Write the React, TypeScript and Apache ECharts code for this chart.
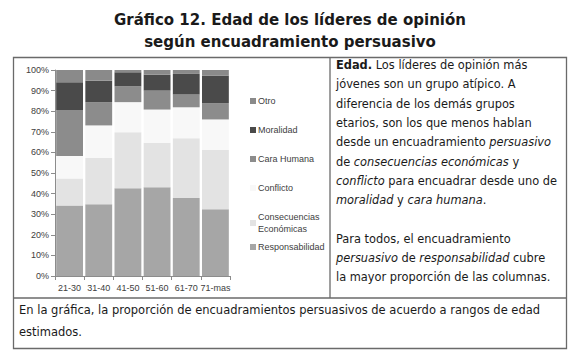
import React, { useEffect, useRef } from "react";
import * as echarts from "echarts";

const categories = ["21-30", "31-40", "41-50", "51-60", "61-70", "71-mas"];
const responsabilidad = [34.2, 34.8, 42.6, 43.1, 37.9, 32.4];
const consecuencias = [13.1, 22.5, 27.2, 21.6, 29.0, 28.9];
const conflicto = [10.9, 15.8, 14.6, 16.1, 15.0, 14.7];
const caraHumana = [22.4, 11.3, 7.7, 9.2, 6.2, 7.9];
const moralidad = [13.4, 10.4, 6.8, 7.7, 10.0, 13.4];
const otro = [6.0, 5.2, 1.1, 2.3, 1.9, 2.7];
const yTicks = [0, 10, 20, 30, 40, 50, 60, 70, 80, 90, 100];

const seriesDefs = [
  { name: "Responsabilidad", data: responsabilidad, color: "#a6a6a6" },
  { name: "Consecuencias Económicas", data: consecuencias, color: "#e3e3e3" },
  { name: "Conflicto", data: conflicto, color: "#f8f8f8" },
  { name: "Cara Humana", data: caraHumana, color: "#8c8c8c" },
  { name: "Moralidad", data: moralidad, color: "#4a4a4a" },
  { name: "Otro", data: otro, color: "#8a8a8a" },
];

const legendOrder = ["Otro", "Moralidad", "Cara Humana", "Conflicto", "Consecuencias Económicas", "Responsabilidad"];
const legendTops = [95, 124, 153, 182, 205, 241];

const bodyLines = [
  "{b|Edad.} Los líderes de opinión más",
  "jóvenes son un grupo atípico. A",
  "diferencia de los demás grupos",
  "etarios, son los que menos hablan",
  "desde un encuadramiento {i|persuasivo}",
  "de {i|consecuencias económicas} y",
  "{i|conflicto} para encuadrar desde uno de",
  "{i|moralidad} y {i|cara humana}.",
  " ",
  "Para todos, el encuadramiento",
  "{i|persuasivo} de {i|responsabilidad} cubre",
  "la mayor proporción de las columnas.",
];
const footLines = [
  "En la gráfica, la proporción de encuadramientos persuasivos de acuerdo a rangos de edad",
  "estimados.",
];

const BODY_FONT = "'DejaVu Sans', Verdana, sans-serif";
const CHART_FONT = "'Liberation Sans', Arial, sans-serif";
const BODY_SIZE = 11.4;

export default function App() {
  const ref = useRef<HTMLDivElement>(null);
  useEffect(() => {
    if (!ref.current) return;
    const chart = echarts.init(ref.current, null, { renderer: "svg" });
    const option: any = {
      animation: false,
      backgroundColor: "#ffffff",
      title: {
        text: "Gráfico 12. Edad de los líderes de opinión\nsegún encuadramiento persuasivo",
        left: "center",
        top: 4,
        textStyle: {
          fontFamily: "'DejaVu Sans', Tahoma, sans-serif",
          fontWeight: "bold",
          fontSize: 15,
          lineHeight: 22,
          color: "#1a1a1a",
          align: "center",
        },
      },
      grid: { left: 55, top: 70, width: 175, height: 206 },
      xAxis: {
        type: "category",
        data: categories,
        axisLine: { lineStyle: { color: "#8c8c8c" } },
        axisTick: { show: true, length: 4, lineStyle: { color: "#8c8c8c" } },
        axisLabel: { fontFamily: CHART_FONT, fontSize: 9, color: "#404040", margin: 7, interval: 0 },
      },
      yAxis: {
        type: "value",
        min: 0,
        max: 100,
        interval: 10,
        axisLine: { show: true, lineStyle: { color: "#8c8c8c" } },
        axisTick: { show: true, length: 4, lineStyle: { color: "#8c8c8c" } },
        splitLine: { show: false },
        axisLabel: {
          fontFamily: CHART_FONT,
          fontSize: 9,
          color: "#404040",
          margin: 6,
          formatter: (v: number) => (yTicks.includes(v) ? v + "%" : ""),
        },
      },
      legend: legendOrder.map((name, i) => ({
        data: [name],
        left: 250,
        top: legendTops[i],
        icon: "rect",
        itemWidth: 6,
        itemHeight: 6,
        padding: 0,
        selectedMode: false,
        formatter: (n: string) => (n === "Consecuencias Económicas" ? "Consecuencias\nEconómicas" : n),
        textStyle: {
          fontFamily: CHART_FONT,
          fontSize: 9,
          color: "#404040",
          lineHeight: 12,
          padding: name === "Consecuencias Económicas" ? [12, 0, 0, -3] : [0, 0, 0, -3],
        },
      })),
      series: seriesDefs.map((s) => ({
        name: s.name,
        type: "bar",
        stack: "total",
        data: s.data,
        barCategoryGap: "8%",
        itemStyle: { color: s.color },
      })),
      graphic: [
        {
          type: "rect",
          shape: { x: 13.5, y: 57.5, width: 553, height: 291 },
          style: { fill: "none", stroke: "#6a6a6a", lineWidth: 1.3 },
          z: 100,
        },
        {
          type: "line",
          shape: { x1: 330, y1: 57.5, x2: 330, y2: 298 },
          style: { stroke: "#6a6a6a", lineWidth: 1.3 },
          z: 100,
        },
        {
          type: "line",
          shape: { x1: 13.5, y1: 298, x2: 566.5, y2: 298 },
          style: { stroke: "#6a6a6a", lineWidth: 1.3 },
          z: 100,
        },
        {
          type: "text",
          x: 336,
          y: 55.5,
          z: 100,
          style: {
            text: bodyLines.join("\n"),
            fontFamily: BODY_FONT,
            fontSize: BODY_SIZE,
            lineHeight: 19.3,
            fill: "#1a1a1a",
            rich: {
              b: { fontFamily: BODY_FONT, fontSize: BODY_SIZE, fontWeight: "bold", lineHeight: 19.3, fill: "#1a1a1a" },
              i: { fontFamily: BODY_FONT, fontSize: BODY_SIZE, fontStyle: "italic", lineHeight: 19.3, fill: "#1a1a1a" },
            },
          },
        },
        {
          type: "text",
          x: 19,
          y: 299,
          z: 100,
          style: {
            text: footLines.join("\n"),
            fontFamily: BODY_FONT,
            fontSize: 11.5,
            lineHeight: 22,
            fill: "#1a1a1a",
          },
        },
      ],
    };
    chart.setOption(option);
    return () => chart.dispose();
  }, []);
  return (
    <div
      ref={ref}
      style={{ position: "fixed", left: 0, top: 0, width: 580, height: 357, background: "#fff" }}
    />
  );
}
